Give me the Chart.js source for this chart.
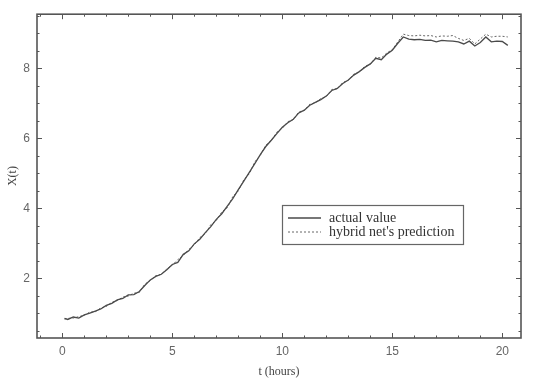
<!DOCTYPE html>
<html>
<head>
<meta charset="utf-8">
<script src="https://cdn.jsdelivr.net/npm/chart.js@4.4.1/dist/chart.umd.min.js"></script>
<style>
  html, body { margin: 0; padding: 0; background: #fff; }
  #chart { display: block; }
</style>
</head>
<body>
<canvas id="chart" width="533" height="383"></canvas>
<script>
// time in hours
const hours = [0.1, 0.25, 0.5, 0.75, 1, 1.25, 1.5, 1.75, 2, 2.25, 2.5, 2.75, 3, 3.25, 3.5, 3.75,
  4, 4.25, 4.5, 4.75, 5, 5.25, 5.5, 5.75, 6, 6.25, 6.5, 6.75, 7, 7.25, 7.5, 7.75,
  8, 8.25, 8.5, 8.75, 9, 9.25, 9.5, 9.75, 10, 10.25, 10.5, 10.75, 11, 11.25, 11.5, 11.75,
  12, 12.25, 12.5, 12.75, 13, 13.25, 13.5, 13.75, 14, 14.25, 14.5, 14.75, 15, 15.25, 15.5, 15.75,
  16, 16.25, 16.5, 16.75, 17, 17.25, 17.5, 17.75, 18, 18.25, 18.5, 18.75, 19, 19.25, 19.5, 19.75,
  20, 20.25];

const actualValue = [0.86, 0.83, 0.90, 0.87, 0.96, 1.01, 1.07, 1.13, 1.23, 1.29, 1.39, 1.43, 1.53, 1.54, 1.63, 1.80,
  1.96, 2.06, 2.12, 2.25, 2.40, 2.46, 2.69, 2.79, 2.99, 3.12, 3.31, 3.48, 3.69, 3.85, 4.07, 4.28,
  4.54, 4.78, 5.03, 5.28, 5.54, 5.77, 5.95, 6.14, 6.32, 6.45, 6.55, 6.73, 6.81, 6.95, 7.03, 7.11,
  7.21, 7.37, 7.43, 7.57, 7.67, 7.81, 7.91, 8.03, 8.13, 8.29, 8.25, 8.41, 8.52, 8.72, 8.90, 8.84,
  8.82, 8.83, 8.80, 8.81, 8.76, 8.80, 8.79, 8.78, 8.76, 8.70, 8.78, 8.64, 8.74, 8.90, 8.76, 8.78,
  8.77, 8.66];

const hybridPrediction = [0.84, 0.86, 0.87, 0.91, 0.95, 1.04, 1.05, 1.16, 1.20, 1.32, 1.37, 1.47, 1.50, 1.58, 1.60, 1.84,
  1.94, 2.08, 2.12, 2.27, 2.38, 2.54, 2.66, 2.83, 2.96, 3.17, 3.28, 3.54, 3.66, 3.90, 4.02, 4.34,
  4.50, 4.82, 4.99, 5.33, 5.52, 5.81, 5.94, 6.18, 6.29, 6.48, 6.54, 6.76, 6.80, 6.98, 7.02, 7.14,
  7.20, 7.40, 7.42, 7.60, 7.66, 7.84, 7.90, 8.06, 8.12, 8.32, 8.30, 8.44, 8.54, 8.76, 8.98, 8.94,
  8.93, 8.95, 8.93, 8.94, 8.90, 8.93, 8.92, 8.94, 8.86, 8.80, 8.86, 8.70, 8.84, 8.98, 8.90, 8.92,
  8.92, 8.90];

const seriesNames = ['actual value', "hybrid net's prediction"];
const xTicks = [0, 5, 10, 15, 20];
const yTicks = [2, 4, 6, 8];

const INK = '#555';

function toPoints(ys) {
  return hours.map((t, i) => ({ x: t, y: ys[i] }));
}

// frame, inward ticks on all four sides, and the boxed legend
const frameAndLegend = {
  id: 'frameAndLegend',
  afterDraw(chart) {
    const ctx = chart.ctx;
    const a = chart.chartArea;
    const xs = chart.scales.x;
    const ys = chart.scales.y;
    ctx.save();
    ctx.strokeStyle = INK;
    ctx.lineWidth = 1.6;
    ctx.strokeRect(a.left, a.top, a.right - a.left, a.bottom - a.top);

    ctx.lineWidth = 1;
    // x ticks: minor every hour, major every 5
    for (let t = -1; t <= 20; t++) {
      const px = Math.round(xs.getPixelForValue(t)) + 0.5;
      const len = (t % 5 === 0) ? 5 : 2.5;
      ctx.beginPath();
      ctx.moveTo(px, a.bottom); ctx.lineTo(px, a.bottom - len);
      ctx.moveTo(px, a.top); ctx.lineTo(px, a.top + len);
      ctx.stroke();
    }
    // y ticks: minor every 0.5, major every 2
    for (let v = 0.5; v <= 9.5; v += 0.5) {
      const py = Math.round(ys.getPixelForValue(v)) + 0.5;
      const len = (v % 2 === 0) ? 5 : 2.5;
      ctx.beginPath();
      ctx.moveTo(a.left, py); ctx.lineTo(a.left + len, py);
      ctx.moveTo(a.right, py); ctx.lineTo(a.right - len, py);
      ctx.stroke();
    }

    // legend box
    const bx = 282, by = 205, bw = 181, bh = 39;
    ctx.strokeStyle = '#666';
    ctx.lineWidth = 1.2;
    ctx.strokeRect(bx + 0.5, by + 0.5, bw, bh);
    ctx.font = '14px "Liberation Serif", serif';
    ctx.textBaseline = 'middle';
    ctx.fillStyle = '#333';
    chart.data.datasets.forEach((ds, i) => {
      const ly = by + 13 + i * 14;
      ctx.strokeStyle = ds.borderColor;
      ctx.lineWidth = ds.borderWidth;
      ctx.setLineDash(ds.borderDash || []);
      ctx.beginPath();
      ctx.moveTo(bx + 6, ly); ctx.lineTo(bx + 39, ly);
      ctx.stroke();
      ctx.setLineDash([]);
      ctx.fillText(ds.label, bx + 47, ly);
    });
    ctx.restore();
  }
};

new Chart(document.getElementById('chart'), {
  type: 'line',
  data: {
    datasets: [{
      label: seriesNames[0],
      data: toPoints(actualValue),
      borderColor: '#4a4a4a',
      borderWidth: 1.3,
      pointRadius: 0,
      tension: 0,
      fill: false
    }, {
      label: seriesNames[1],
      data: toPoints(hybridPrediction),
      borderColor: '#666',
      borderWidth: 1,
      borderDash: [2, 2],
      pointRadius: 0,
      tension: 0,
      fill: false
    }]
  },
  options: {
    responsive: false,
    devicePixelRatio: 1,
    animation: false,
    layout: { padding: { top: 9, right: 12, left: 0, bottom: 0 } },
    plugins: {
      legend: { display: false },
      tooltip: { enabled: false }
    },
    scales: {
      x: {
        type: 'linear',
        min: -1.15,
        max: 20.85,
        afterFit: s => { s.height = 45; },
        afterBuildTicks: s => { s.ticks = xTicks.map(v => ({ value: v })); },
        grid: { display: false, drawTicks: false },
        border: { display: false },
        ticks: {
          padding: 6,
          color: '#666',
          font: { family: '"Liberation Sans", sans-serif', size: 12 }
        },
        title: {
          display: true,
          text: 't (hours)',
          color: '#444',
          padding: { top: 0, bottom: 4 },
          font: { family: '"Liberation Serif", serif', size: 12 }
        }
      },
      y: {
        min: 0.3,
        max: 9.55,
        afterFit: s => { s.width = 37; },
        afterBuildTicks: s => { s.ticks = yTicks.map(v => ({ value: v })); },
        grid: { display: false, drawTicks: false },
        border: { display: false },
        ticks: {
          padding: 7,
          color: '#666',
          font: { family: '"Liberation Sans", sans-serif', size: 12 }
        },
        title: {
          display: true,
          text: 'X(t)',
          color: '#444',
          padding: { top: 6, bottom: 0 },
          font: { family: '"Liberation Serif", serif', size: 12 }
        }
      }
    }
  },
  plugins: [frameAndLegend]
});
</script>
</body>
</html>
